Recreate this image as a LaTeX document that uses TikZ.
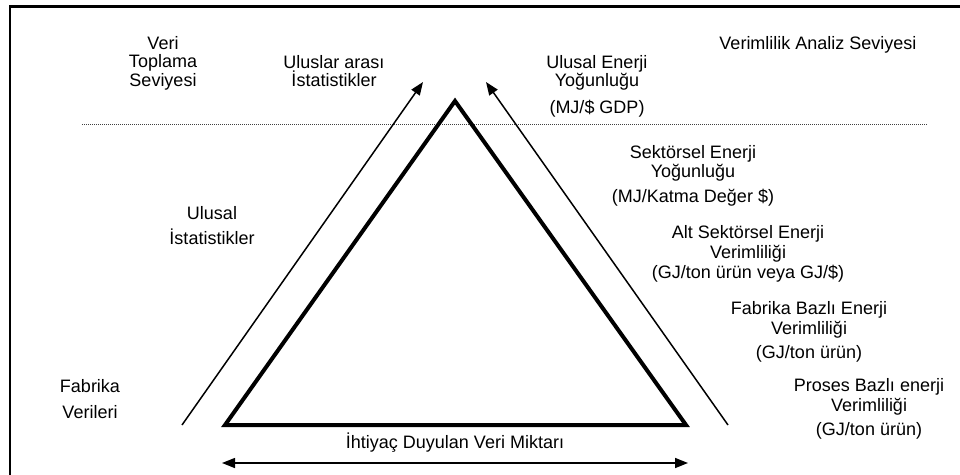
\documentclass[tikz,border=0pt]{standalone}
\usepackage{fontspec}
\setmainfont{Liberation Sans}
\usetikzlibrary{arrows.meta}
\newcommand{\fst}{\rule{0pt}{16pt}}
\begin{document}
\begin{tikzpicture}[x=1pt,y=-1pt,
  lbl/.style={anchor=north,inner sep=0pt,align=center,font=\fontsize{18}{18.5}\selectfont},
  frameline/.style={line width=2.5pt,line join=miter},
  tri/.style={line width=4pt,line join=miter},
  sidearrow/.style={line width=1.5pt,-{Triangle[length=13pt,width=10pt]}},
  botharrow/.style={line width=1.5pt,{Triangle[length=13pt,width=10pt]}-{Triangle[length=13pt,width=10pt]}},
  dotline/.style={line width=0.8pt,black!75,dash pattern=on 1pt off 1pt}
]
\useasboundingbox (0,0) rectangle (960,474);
% frame
\coordinate (fa) at (10,480);
\coordinate (fb) at (10,6.5);
\coordinate (fc) at (965,6.5);
\draw[frameline] (fa) -- (fb) -- (fc);
% dotted level line
\coordinate (dl0) at (82,124);
\coordinate (dl1) at (928,124);
\draw[dotline] (dl0) -- (dl1);
% triangle
\coordinate (apex) at (455,101);
\coordinate (bl) at (225,425);
\coordinate (br) at (686,425);
\draw[tri] (apex) -- (bl) -- (br) -- cycle;
% side arrows
\coordinate (la0) at (182,425);
\coordinate (la1) at (423,82);
\coordinate (ra0) at (728,425);
\coordinate (ra1) at (486,82);
\draw[sidearrow] (la0) -- (la1);
\draw[sidearrow] (ra0) -- (ra1);
% bottom arrow
\coordinate (ba0) at (222,463);
\coordinate (ba1) at (688,463);
\draw[botharrow] (ba0) -- (ba1);
% labels
\node[lbl] (veri) at (163,33) {\fst Veri\\Toplama\\Seviyesi};
\node[lbl] (ulararasi) at (334,52) {\fst Uluslar arası\\İstatistikler};
\node[lbl] (ulusalenerji) at (597,52) {\fst Ulusal Enerji\\Yoğunluğu\\[8pt](MJ/\$ GDP)};
\node[lbl] (verimlilik) at (818,33) {\fst Verimlilik Analiz Seviyesi};
\node[lbl] (sektorsel) at (693,142) {\fst Sektörsel Enerji\\[1pt]Yoğunluğu\\[6pt](MJ/Katma Değer \$)};
\node[lbl] (altsektorsel) at (748,222) {\fst Alt Sektörsel Enerji\\[1.5pt]Verimliliği\\[1.5pt](GJ/ton ürün veya GJ/\$)};
\node[lbl] (fabrikabazli) at (809,298) {\fst Fabrika Bazlı Enerji\\[1.5pt]Verimliliği\\[6pt](GJ/ton ürün)};
\node[lbl] (proses) at (869,375) {\fst Proses Bazlı enerji\\[1.5pt]Verimliliği\\[6pt](GJ/ton ürün)};
\node[lbl] (ulusalist) at (212,203) {\fst Ulusal\\[6.5pt]İstatistikler};
\node[lbl] (fabrikaveri) at (90,376) {\fst Fabrika\\[7.5pt]Verileri};
\node[lbl] (ihtiyac) at (455,432) {\fst İhtiyaç Duyulan Veri Miktarı};
\end{tikzpicture}
\end{document}
